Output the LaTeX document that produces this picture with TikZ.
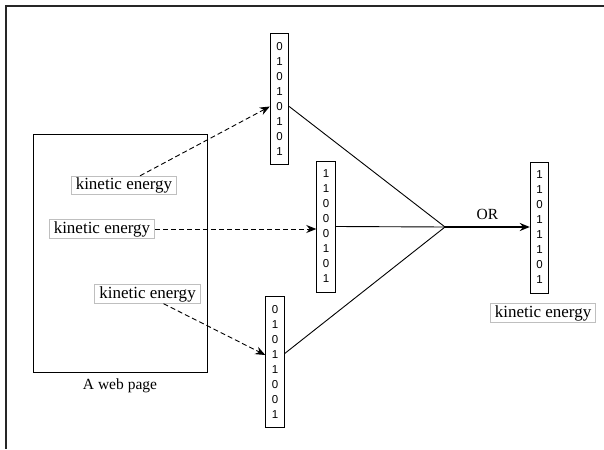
\documentclass[tikz,border=0pt]{standalone}
\usepackage{fontspec}
\setmainfont{Liberation Serif}
\setsansfont{Liberation Sans}
\usetikzlibrary{arrows.meta}

\tikzset{
	bitvec/.style={draw=black, inner sep=0pt, minimum width=18.5pt, minimum height=131pt, align=center, font=\sffamily\fontsize{11.5}{15}\selectfont},
	keyword/.style={draw=black!25, inner xsep=4.5pt, inner ysep=1.5pt, font=\fontsize{17}{18}\selectfont},
	pointer/.style={dash pattern=on 5pt off 3pt, -{Stealth[length=10pt,width=8pt]}},
}

\begin{document}
\begin{tikzpicture}[x=1pt,y=-1pt,line width=0.9pt]
	\useasboundingbox (0,0) rectangle (604,449);
	\draw[line width=1.3pt, black!85] (604,6) -- (6,6) -- (6,449);

	\node[draw=black, minimum width=174pt, minimum height=238pt] (page) at (120,253) {};
	\node[font=\fontsize{15.5}{16}\selectfont] (cap) at (120,386) {A web page};

	\node[keyword] (k1) at (124,185.5) {kinetic energy};
	\node[keyword] (k2) at (102,229) {kinetic energy};
	\node[keyword] (k3) at (147.5,294) {kinetic energy};

	\node[bitvec] (v1) at (279.5,98.5)  {0\\1\\0\\1\\0\\1\\0\\1};
	\node[bitvec] (v2) at (326,226.5) {1\\1\\0\\0\\0\\1\\0\\1};
	\node[bitvec] (v3) at (275,361.5) {0\\1\\0\\1\\1\\0\\0\\1};
	\node[bitvec] (v4) at (539.5,227.5)   {1\\1\\0\\1\\1\\1\\0\\1};
	\node[keyword] (k4) at (543,313) {kinetic energy};

	\coordinate (m) at (445,227);

	\draw[pointer] ([xshift=16pt]k1.north) -- ([yshift=-8pt]v1.west);
	\draw[pointer] (k2.east) -- (k2.east -| v2.west);
	\draw[pointer] ([xshift=16pt]k3.south) -- ([yshift=6.5pt]v3.west);

	\draw ([yshift=-8pt]v1.east) -- (m);
	\draw (v2.east) -- (m);
	\draw ([yshift=8pt]v3.east) -- (m);
	\draw[line width=1.6pt, -{Stealth[length=10pt,width=8pt]}] (m) -- (m -| v4.west)
		node[midway, above=3pt, font=\fontsize{15.5}{16}\selectfont] (or) {OR};
\end{tikzpicture}
\end{document}
